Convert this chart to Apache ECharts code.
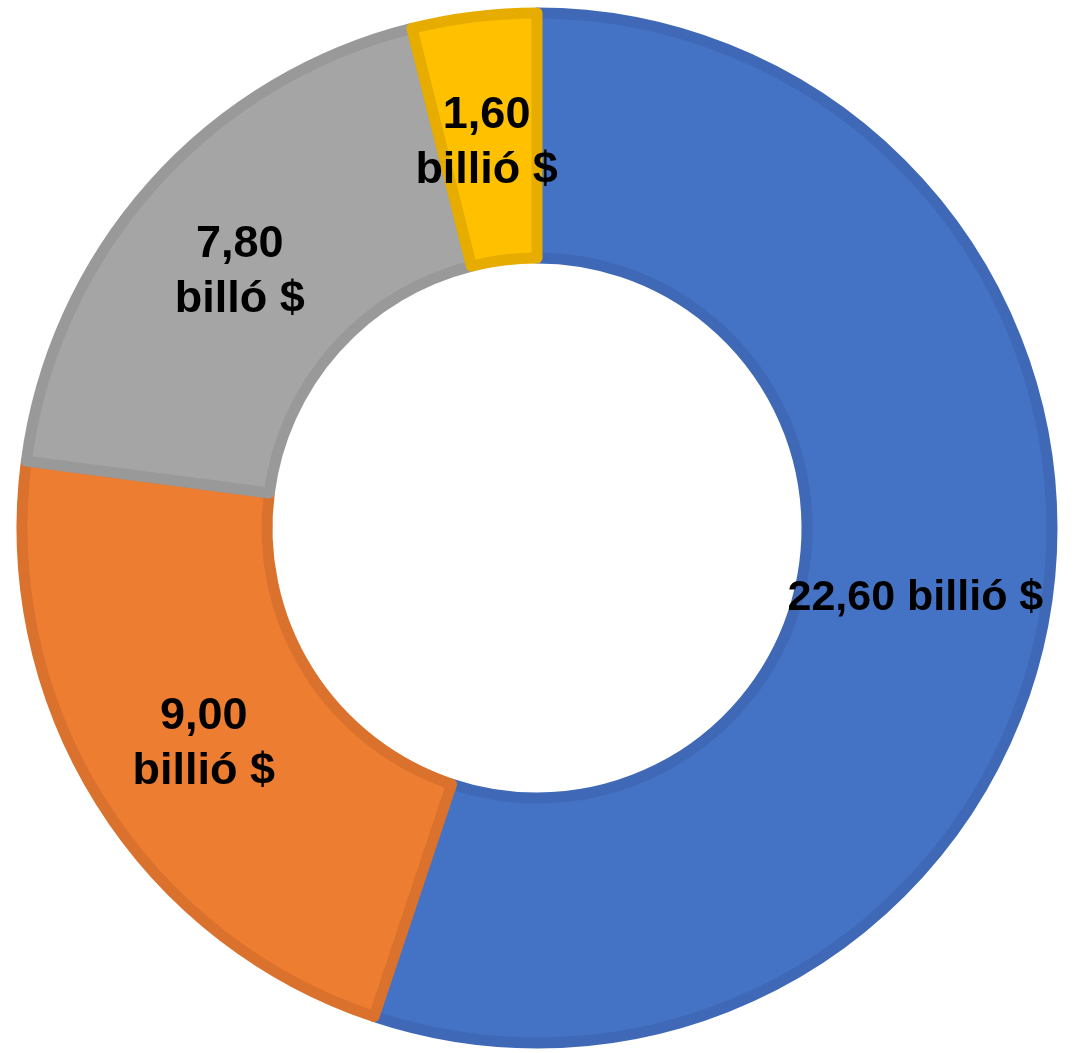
<!DOCTYPE html>
<html>
<head>
<meta charset="utf-8">
<script src="https://cdn.jsdelivr.net/npm/echarts@6/dist/echarts.min.js"></script>
<style>
html,body{margin:0;padding:0;background:#fff;}
#chart{width:1076px;height:1053px;}
</style>
</head>
<body>
<div id="chart"></div>
<script>
const categories = ['A', 'B', 'C', 'D'];
const values = [22.60, 9.00, 7.80, 1.60];
const labelTexts = ['22,60 billió $', '9,00\nbillió $', '7,80\nbilló $', '1,60\nbillió $'];
const fillColors = ['#4472C4', '#ED7D31', '#A5A5A5', '#FFC000'];
const borderColors = ['#3F69B6', '#DA722D', '#999999', '#E6AD00'];
const labelOffsets = [[-12, 7], [2, 6], [-2, 7], [-2, 8]];
const labelSizes = [43, 45, 45, 45];

const chart = echarts.init(document.getElementById('chart'));
chart.setOption({
  animation: false,
  series: [{
    type: 'pie',
    center: [537, 528],
    radius: [270, 515],
    startAngle: 90,
    clockwise: true,
    avoidLabelOverlap: false,
    emphasis: { disabled: true },
    label: {
      show: true,
      position: 'inside',
      color: '#000',
      fontFamily: 'Liberation Sans, Arial, sans-serif',
      fontWeight: 'bold',
      lineHeight: 55
    },
    labelLine: { show: false },
    data: categories.map((c, i) => ({
      name: c,
      value: values[i],
      label: { formatter: labelTexts[i], offset: labelOffsets[i], fontSize: labelSizes[i] },
      itemStyle: { color: fillColors[i], borderColor: borderColors[i], borderWidth: 11 }
    }))
  }]
});
</script>
</body>
</html>
